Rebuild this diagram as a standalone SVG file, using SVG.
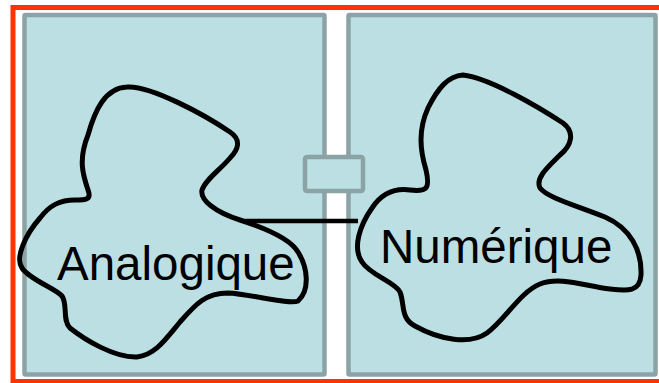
<svg xmlns="http://www.w3.org/2000/svg" width="659" height="383" viewBox="0 0 659 383">
<style>
.panel{fill:#BBDFE3;stroke:#8CA3A5;stroke-width:4.5}
.blob{fill:none;stroke:#000;stroke-width:5;stroke-linejoin:round}
.lbl{font-family:"Liberation Sans",Arial,sans-serif;font-size:47.5px;fill:#000}
</style>
<rect x="0" y="0" width="659" height="383" fill="#fff"/>
<g id="pcb">
<rect x="13" y="7.5" width="660" height="374" fill="none" stroke="#FF3300" stroke-width="5"/>
<text x="45" y="78" font-family="'Liberation Sans',Arial,sans-serif" font-size="46.5" fill="#FF0000">PCB</text>
</g>
<g id="panel-left"><rect class="panel" x="24.5" y="15" width="300" height="359.5" rx="1"/></g>
<g id="panel-right"><rect class="panel" x="348.5" y="15" width="307" height="359.5" rx="1"/></g>
<g id="connector-box"><rect class="panel" x="305" y="157" width="58" height="34" rx="2"/></g>
<g id="analogique">
<path class="blob" d="M127,87 C150,85 205,115 230,132 C242,140 238,150 230,158 C220,170 205,180 202,190 C200,200 215,212 240,220 C265,228 290,238 298,252 C308,268 310,290 298,301 C290,305 250,294 228,293 C205,293 195,305 180,322 C165,340 155,355 137,357 C115,358 85,340 70,328 C62,320 68,305 62,296 C55,288 30,280 22,268 C15,258 25,235 40,218 C50,205 60,200 75,200 C85,200 92,200 88,190 C83,175 78,160 88,135 C95,110 105,88 127,87 Z"/>
<text class="lbl" x="57" y="280">Analogique</text>
</g>
<g id="numerique">
<path class="blob" d="M463,75 C490,78 540,108 563,123 C575,132 572,145 560,155 C548,167 535,178 540,188 C548,198 575,205 605,217 C630,228 642,250 641,275 C640,292 628,291 610,289 C585,286 560,276 540,284 C520,292 505,320 487,333 C470,345 440,340 415,326 C400,318 405,305 400,292 C395,282 370,275 362,262 C352,248 360,225 372,208 C382,193 395,188 410,190 C428,192 430,188 426,170 C420,150 418,130 428,108 C438,88 448,76 463,75 Z"/>
<text class="lbl" x="380" y="263">Numérique</text>
</g>
<g id="connectors">
<line x1="245" y1="221" x2="358" y2="221" stroke="#000" stroke-width="4.5"/>
</g>
</svg>
